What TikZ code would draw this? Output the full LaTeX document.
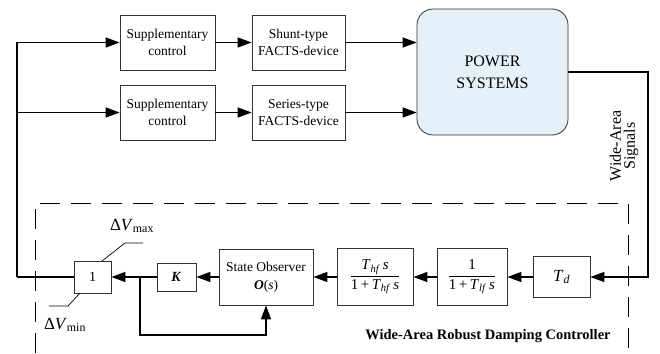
\documentclass[tikz,border=0pt]{standalone}
\usepackage{fontspec}
\setmainfont{Liberation Serif}
\usetikzlibrary{arrows.meta}

% italic symbol with italic subscript, set in the text font
\newcommand{\symsub}[2]{\textit{#1}\textsubscript{\textit{#2}}}

\definecolor{boxline}{HTML}{333333}
\definecolor{plantfill}{HTML}{E6F0F8}

\begin{document}
\begin{tikzpicture}[x=1pt,y=-1pt,
  blk/.style={draw=boxline, line width=0.8pt, fill=white, align=center,
    inner sep=0pt, font=\fontsize{13.5}{17}\selectfont},
  wire/.style={line width=1.3pt, line cap=butt},
  sig/.style={wire, -{Triangle[length=14pt,width=10pt]}},
  lead/.style={line width=0.7pt},
  lbl/.style={inner sep=0pt}
]
\useasboundingbox (0,0) rectangle (660,353);

% forward path: supplementary controls, FACTS devices, power system
\node[blk, minimum width=95pt, minimum height=55pt] (sc1) at (167.5,42.5) {Supplementary\\control};
\node[blk, minimum width=93pt, minimum height=55pt] (shunt) at (298.5,42.5) {Shunt-type\\FACTS-device};
\node[blk, minimum width=95pt, minimum height=55pt] (sc2) at (167.5,112.5) {Supplementary\\control};
\node[blk, minimum width=93pt, minimum height=55pt] (series) at (298.5,112.5) {Series-type\\FACTS-device};
\node[blk, fill=plantfill, rounded corners=16pt, minimum width=151pt, minimum height=126pt,
  font=\fontsize{16}{22}\selectfont] (ps) at (492.5,72) {POWER\\SYSTEMS};

% damping controller chain
\node[blk, minimum width=57pt, minimum height=41pt, font=\fontsize{17}{20}\selectfont] (td) at (561.5,277) {\symsub{T}{d}};
\node[blk, minimum width=70pt, minimum height=57pt, font=\fontsize{15}{18}\selectfont] (lf) at (472,277)
  {$\displaystyle\frac{\mbox{1}}{\mbox{1\,+\,\symsub{T}{lf}\,\textit{s}}}$};
\node[blk, minimum width=76pt, minimum height=57pt, font=\fontsize{15}{18}\selectfont] (hf) at (375,277)
  {$\displaystyle\frac{\mbox{\symsub{T}{hf}\,\textit{s}}}{\mbox{1\,+\,\symsub{T}{hf}\,\textit{s}}}$};
\node[blk, minimum width=94pt, minimum height=56pt, font=\fontsize{13.5}{18}\selectfont] (obs) at (266,277)
  {State Observer\\\textbf{\textit{O}}(\textit{s})};
\node[blk, minimum width=39pt, minimum height=28pt, font=\fontsize{14}{16}\selectfont] (gain) at (176.5,277) {\textbf{\textit{K}}};
\node[blk, minimum width=37pt, minimum height=32pt, font=\fontsize{14}{16}\selectfont] (lim) at (92.5,277) {1};

% junctions and corners
\coordinate (busA) at (17,42.5);
\coordinate (busB) at (17,112.5);
\coordinate (busC) at (17,277);
\coordinate (outA) at (648,72);
\coordinate (outB) at (648,277);
\coordinate (tap) at (140,277);
\coordinate (tapA) at (140,335);
\coordinate (tapB) at (266,335);

% connectors
\draw[wire] (busC) -- (busA);
\draw[sig] (busA) -- (sc1);
\draw[sig] (busB) -- (sc2);
\draw[sig] (sc1) -- (shunt);
\draw[sig] (sc2) -- (series);
\draw[sig] (shunt.east) -- (ps.west |- shunt.east);
\draw[sig] (series.east) -- (ps.west |- series.east);
\draw[sig] (ps.east |- outA) -- (outA) -- (outB) -- (td.east);
\draw[sig] (td) -- (lf);
\draw[sig] (lf) -- (hf);
\draw[sig] (hf) -- (obs);
\draw[sig] (obs) -- (gain);
\draw[sig] (gain.west) -- (lim.east);
\draw[wire] (lim.west) -- (busC);
\draw[sig] (tap) -- (tapA) -- (tapB) -- (obs.south);

% limiter bounds
\coordinate (maxA) at (102,261);
\coordinate (maxB) at (125,243);
\coordinate (maxC) at (143,243);
\coordinate (minA) at (80,293);
\coordinate (minB) at (68,306);
\coordinate (minC) at (49,306);
\draw[lead] (maxA) -- (maxB) -- (maxC);
\draw[lead] (minA) -- (minB) -- (minC);
\node[lbl, font=\fontsize{17}{20}\selectfont] (vmax) at (132,226) {Δ\textit{V}\textsubscript{max}};
\node[lbl, font=\fontsize{17}{20}\selectfont] (vmin) at (65,325) {Δ\textit{V}\textsubscript{min}};

% controller boundary
\draw[line width=1pt, dash pattern=on 20pt off 11pt] (35,353) -- (35,203) -- (628,203) -- (628,353);
\node[lbl, font=\fontsize{14.5}{17}\bfseries] (ctrl) at (488,336) {Wide-Area Robust Damping Controller};

% measured signals label
\node[lbl, rotate=90, align=center, font=\fontsize{16}{14}\selectfont] (wams) at (624,146) {Wide-Area\\Signals};
\end{tikzpicture}
\end{document}
